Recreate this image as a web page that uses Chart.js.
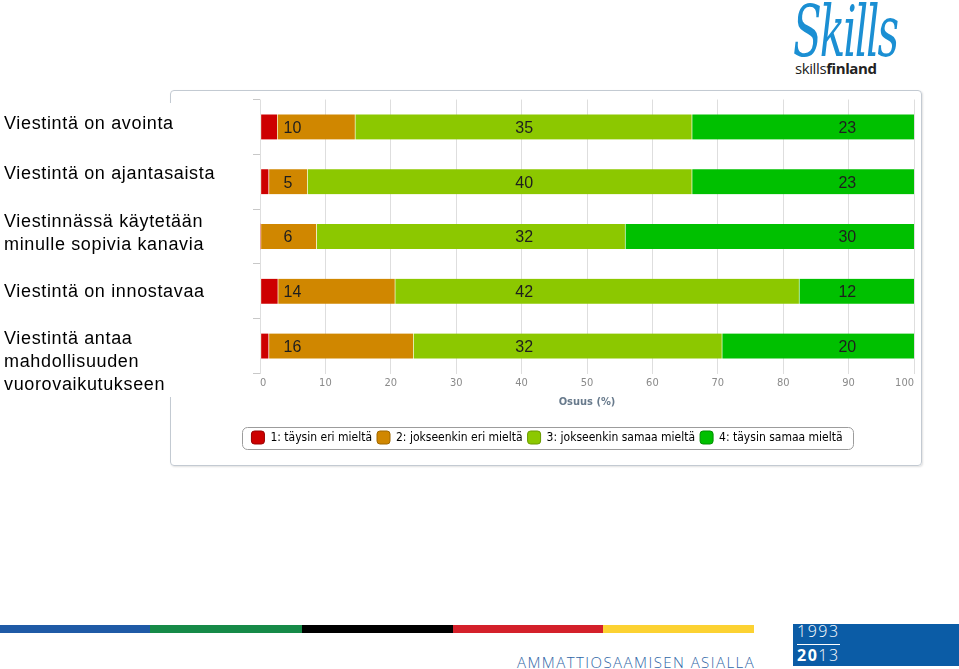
<!DOCTYPE html>
<html>
<head>
<meta charset="utf-8">
<script src="https://cdn.jsdelivr.net/npm/chart.js@4.4.1/dist/chart.umd.min.js"></script>
<style>
body{margin:0;width:959px;height:669px;position:relative;background:#fff;overflow:hidden;font-family:"Liberation Sans",Arial,sans-serif}
#frame{position:absolute;left:170px;top:90px;width:752px;height:376px;box-sizing:border-box;border:1px solid #c3cad2;border-radius:4px;box-shadow:1px 1px 2px rgba(0,0,0,.12)}
#cover{position:absolute;left:0;top:103px;width:249px;height:294px;background:#fff}
.cat{position:absolute;left:4px;font-size:18px;letter-spacing:.65px;line-height:23px;color:#000;white-space:nowrap}
#chart{position:absolute;left:170px;top:90px}
.stripe{position:absolute;top:625px;height:8px}
</style>
</head>
<body>
<div id="frame"></div>
<div id="cover"></div>
<canvas id="chart" width="752" height="376"></canvas>

<div style="position:absolute;left:793px;top:-10px;font:italic 42px 'DejaVu Serif';color:#1b8fd3;letter-spacing:-2px;transform:scale(1,1.7);transform-origin:0 0">Skills</div>
<div style="position:absolute;left:795px;top:58px;font:15px 'Open Sans';color:#222;letter-spacing:-.4px;line-height:20px">skills<b>finland</b></div>

<div class="stripe" style="left:0;width:150px;background:#1f5aa6"></div>
<div class="stripe" style="left:150px;width:152px;background:#168a48"></div>
<div class="stripe" style="left:302px;width:151px;background:#000"></div>
<div class="stripe" style="left:453px;width:150px;background:#d4202a"></div>
<div class="stripe" style="left:603px;width:151px;background:#fcd232"></div>
<div style="position:absolute;left:517px;top:652px;font:300 15px 'Open Sans';line-height:20px;color:#2f66a6;letter-spacing:1.45px;white-space:nowrap">AMMATTIOSAAMISEN ASIALLA</div>
<div style="position:absolute;left:793px;top:624px;width:166px;height:42px;background:#0b5ca6"></div>
<div style="position:absolute;left:797px;top:621px;font:300 16px 'Open Sans';line-height:20px;color:#fff;letter-spacing:1.5px">1993</div>
<div style="position:absolute;left:797px;top:644px;width:43px;height:1px;background:#fff"></div>
<div style="position:absolute;left:797px;top:645px;font:300 16px 'Open Sans';line-height:20px;color:#fff;letter-spacing:1.5px"><b style="font-weight:700">20</b>13</div>

<script>
// statements (left column)
const categories = [
  ["Viestintä on avointa"],
  ["Viestintä on ajantasaista"],
  ["Viestinnässä käytetään", "minulle sopivia kanavia"],
  ["Viestintä on innostavaa"],
  ["Viestintä antaa", "mahdollisuuden", "vuorovaikutukseen"]
];

const seriesNames = [
  "1: täysin eri mieltä",
  "2: jokseenkin eri mieltä",
  "3: jokseenkin samaa mieltä",
  "4: täysin samaa mieltä"
];

// share of answers in %
const share1 = [2.6, 1.3, 0, 2.7, 1.3];
const share2 = [11.9, 5.9, 8.6, 17.9, 22.1];
const share3 = [51.5, 58.8, 47.2, 61.8, 47.2];
const share4 = [34.0, 34.0, 44.2, 17.6, 29.4];

// counts printed inside the bars
const count2 = [10, 5, 6, 14, 16];
const count3 = [35, 40, 32, 42, 32];
const count4 = [23, 23, 30, 12, 20];

const xTicks = [0, 10, 20, 30, 40, 50, 60, 70, 80, 90, 100];

const colors = ["#cd0000", "#d08700", "#8cc800", "#00c000"];
const edges = ["#990000", "#a06800", "#6a9a00", "#009000"];

// where the count labels sit on the x axis
const labelAt = [3.6, 40.4, 89.8];
const catTop = [112, 162, 210, 280, 327];

categories.forEach((lines, i) => {
  const d = document.createElement("div");
  d.className = "cat";
  d.style.top = catTop[i] + "px";
  d.innerHTML = lines.join("<br>");
  document.body.appendChild(d);
});

const barText = {
  id: "barText",
  afterDatasetsDraw(chart) {
    const ctx = chart.ctx;
    const x = chart.scales.x;
    ctx.save();
    ctx.font = '16px "Liberation Sans", Arial';
    ctx.fillStyle = "#1e1e1e";
    ctx.textBaseline = "middle";
    [count2, count3, count4].forEach((counts, k) => {
      const meta = chart.getDatasetMeta(k + 1);
      ctx.textAlign = k === 0 ? "left" : "center";
      const px = x.getPixelForValue(labelAt[k]);
      meta.data.forEach((bar, i) => {
        ctx.fillText(String(counts[i]), px, bar.y + 1.5);
      });
    });
    ctx.restore();
  }
};

const legendFrame = {
  id: "legendFrame",
  afterDraw(chart) {
    const boxes = chart.legend.legendHitBoxes;
    if (!boxes || !boxes.length) return;
    const l = Math.min(...boxes.map(b => b.left));
    const r = Math.max(...boxes.map(b => b.left + b.width));
    const cy = boxes[0].top + boxes[0].height / 2;
    const ctx = chart.ctx;
    ctx.save();
    ctx.beginPath();
    ctx.roundRect(Math.round(l - 9) + .5, Math.round(cy - 11) + .5, Math.round(r - l + 20), 22, 5);
    ctx.strokeStyle = "#9c9c9c";
    ctx.lineWidth = 1;
    ctx.stroke();
    ctx.restore();
  }
};

const shares = [share1, share2, share3, share4];

new Chart(document.getElementById("chart"), {
  type: "bar",
  data: {
    labels: categories.map(c => c.join(" ")),
    datasets: shares.map((s, k) => ({
      label: seriesNames[k],
      data: s,
      backgroundColor: colors[k],
      borderColor: "rgba(255,255,235,0.65)",
      borderWidth: {left: 1, top: 0, right: 0, bottom: 0},
      borderSkipped: false,
      barThickness: 25
    }))
  },
  options: {
    indexAxis: "y",
    responsive: false,
    animation: false,
    layout: {padding: {left: 10, right: 8, top: 9.5, bottom: 12}},
    scales: {
      x: {
        stacked: true,
        min: 0,
        max: 100,
        afterBuildTicks: s => { s.ticks = xTicks.map(v => ({value: v})); },
        afterFit: s => { s.height = 52.5; },
        ticks: {
          align: "inner",
          padding: 3,
          color: "#8a8a8a",
          font: {family: "'DejaVu Sans Condensed', 'Liberation Sans Narrow', sans-serif", size: 11}
        },
        grid: {color: "#dedede", drawTicks: false},
        border: {display: false},
        title: {
          display: true,
          text: "Osuus (%)",
          color: "#687a8c",
          padding: {top: 0, bottom: 17.4},
          font: {family: "'DejaVu Sans Condensed', 'Liberation Sans Narrow', sans-serif", size: 11, weight: "bold"}
        }
      },
      y: {
        stacked: true,
        afterFit: s => { s.width = 80; },
        ticks: {display: false},
        grid: {drawOnChartArea: false, offset: true, tickLength: 7, color: "#c8c8c8"},
        border: {display: false}
      }
    },
    plugins: {
      tooltip: {enabled: false},
      legend: {
        position: "bottom",
        labels: {
          padding: 5,
          boxWidth: 13,
          boxHeight: 13,
          useBorderRadius: true,
          borderRadius: 3,
          color: "#333",
          font: {family: "'DejaVu Sans Condensed', 'Liberation Sans Narrow', sans-serif", size: 12},
          generateLabels: chart => chart.data.datasets.map((d, k) => ({
            text: d.label,
            fillStyle: colors[k],
            strokeStyle: edges[k],
            lineWidth: 1,
            borderRadius: 3,
            datasetIndex: k,
            hidden: false
          }))
        }
      }
    }
  },
  plugins: [barText, legendFrame]
});
</script>
</body>
</html>
